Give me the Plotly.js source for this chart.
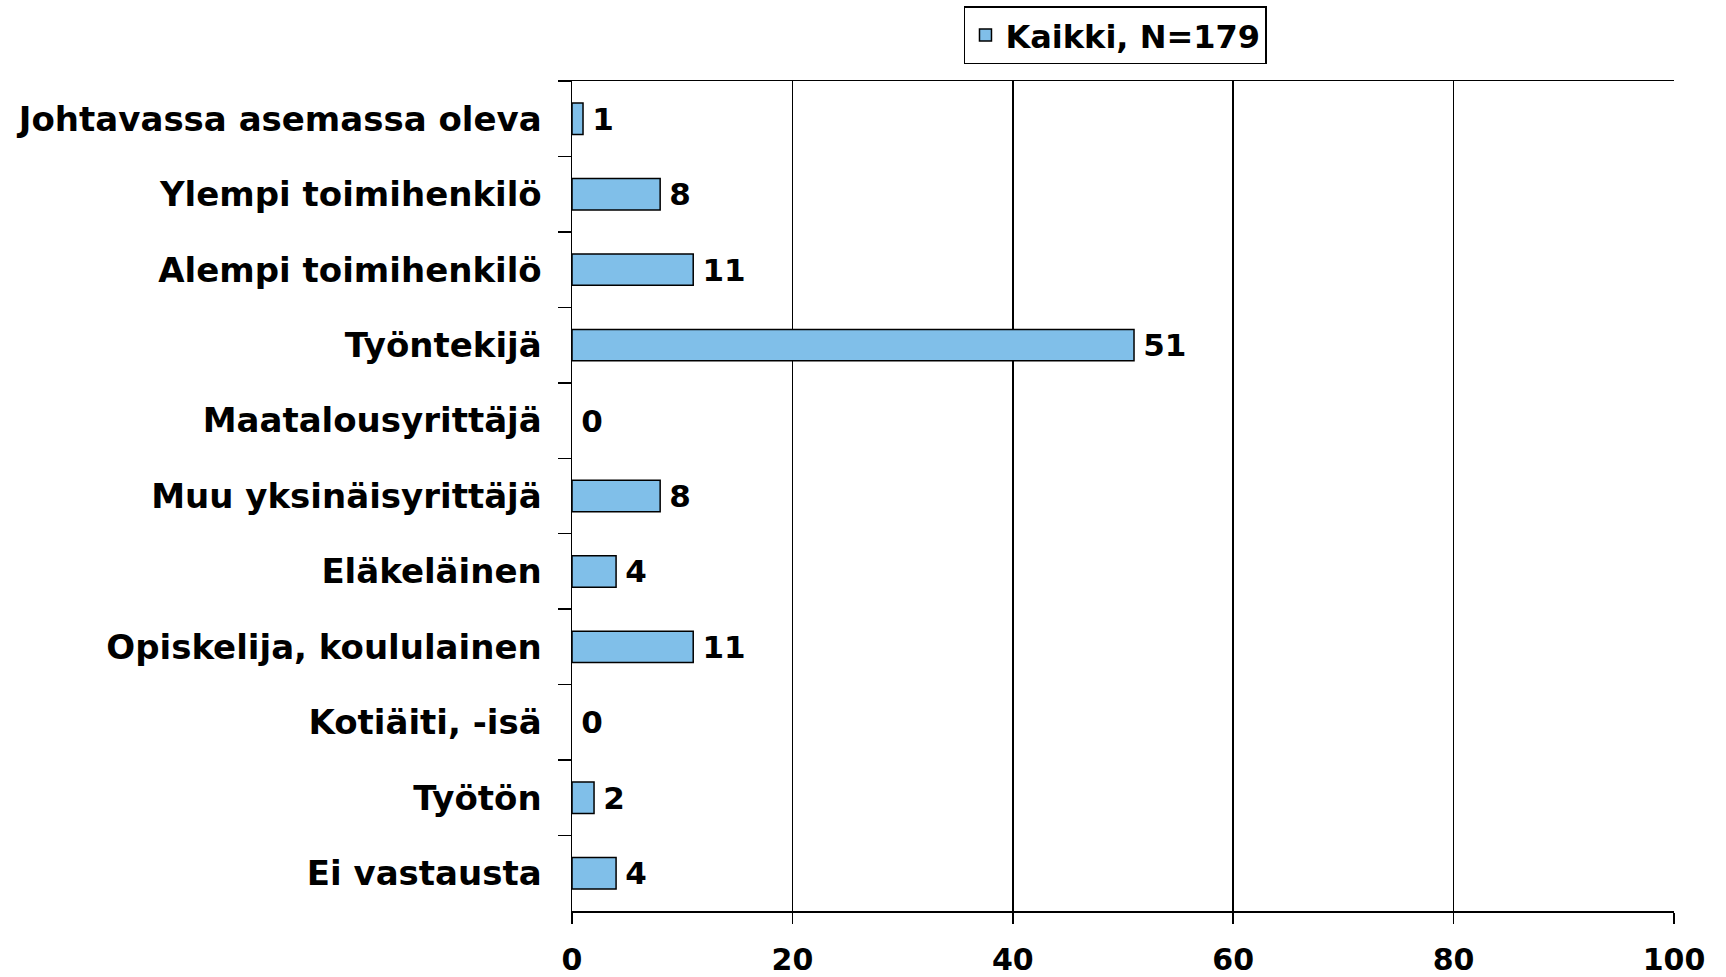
<!DOCTYPE html>
<html>
<head>
<meta charset="utf-8">
<script src="https://cdn.plot.ly/plotly-3.0.1.min.js"></script>
<style>html,body{margin:0;padding:0;background:#fff;}#chart{width:1726px;height:977px;}</style>
</head>
<body>
<div id="chart"></div>
<script>
const categories = ["Johtavassa asemassa oleva","Ylempi toimihenkilö","Alempi toimihenkilö","Työntekijä","Maatalousyrittäjä","Muu yksinäisyrittäjä","Eläkeläinen","Opiskelija, koululainen","Kotiäiti, -isä","Työtön","Ei vastausta"];
const values = [1, 8, 11, 51, 0, 8, 4, 11, 0, 2, 4];
const seriesName = "Kaikki, N=179";
const xTicks = [0, 20, 40, 60, 80, 100];

const FONT = "DejaVu Sans, Arial, sans-serif";

const trace = {
  type: "bar",
  orientation: "h",
  name: seriesName,
  y: categories,
  x: values,
  text: values.map(v => "\u2009" + v),
  textposition: "outside",
  cliponaxis: false,
  constraintext: "none",
  textfont: {family: FONT, size: 31, color: "#000", weight: "bold"},
  marker: {color: "#80bfe9", line: {color: "#000", width: values.map(v => v === 0 ? 0 : 1.5)}},
  hoverinfo: "none"
};

const layout = {
  width: 1726, height: 977,
  margin: {l: 572, r: 52, t: 81, b: 66, autoexpand: false},
  paper_bgcolor: "#fff", plot_bgcolor: "#fff",
  font: {family: FONT, color: "#000"},
  bargap: 0.584,
  showlegend: true,
  legend: {
    x: 0.3557, xanchor: "left", y: 1.09, yanchor: "top",
    orientation: "h",
    bordercolor: "#000", borderwidth: 1.5, bgcolor: "#fff",
    font: {family: FONT, size: 32, color: "#000", weight: "bold"}
  },
  xaxis: {
    range: [0, 100],
    tickvals: xTicks,
    ticktext: xTicks.map(String),
    showgrid: true, gridcolor: "#000", gridwidth: 1.5,
    zeroline: false,
    showline: true, linecolor: "#000", linewidth: 1.5, mirror: true,
    ticks: "outside", ticklen: 11, tickwidth: 1.5, tickcolor: "#000",
    ticklabelstandoff: 10,
    tickfont: {family: FONT, size: 30, color: "#000", weight: "bold"},
    fixedrange: true
  },
  yaxis: {
    type: "category",
    autorange: "reversed",
    showgrid: false, zeroline: false,
    showline: true, linecolor: "#000", linewidth: 1.5,
    ticks: "outside", tickson: "boundaries", ticklen: 13, tickwidth: 1.5, tickcolor: "#000",
    ticklabelstandoff: 22,
    tickfont: {family: FONT, size: 34, color: "#000", weight: "bold"},
    fixedrange: true
  }
};

Plotly.newPlot("chart", [trace], layout, {staticPlot: true, displayModeBar: false});
</script>
</body>
</html>
